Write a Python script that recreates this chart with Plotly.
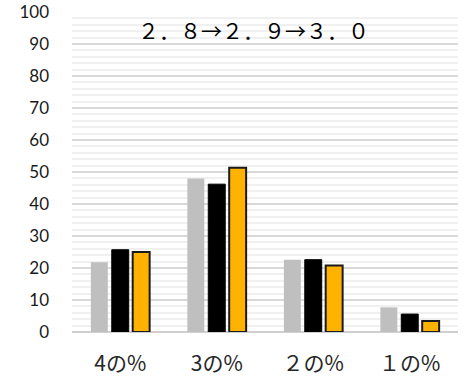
import plotly.graph_objects as go

categories = ["4の%", "3の%", "２の%", "１の%"]
series_names = ["2.8", "2.9", "3.0"]
values_28 = [21.8, 48.0, 22.6, 7.7]
values_29 = [25.7, 46.2, 22.6, 5.6]
values_30 = [25.0, 51.3, 20.8, 3.4]
title_text = "２．８→２．９→３．０"

fig = go.Figure()
fig.add_trace(go.Bar(x=categories, y=values_28, name=series_names[0],
                     marker=dict(color="#BFBFBF", line=dict(width=0))))
fig.add_trace(go.Bar(x=categories, y=values_29, name=series_names[1],
                     marker=dict(color="#000000", line=dict(color="#000000", width=1))))
fig.add_trace(go.Bar(x=categories, y=values_30, name=series_names[2],
                     marker=dict(color="#FFB300", line=dict(color="#1a1a1a", width=2))))

fig.add_annotation(
    x=0.47, y=0.997, xref="paper", yref="paper",
    text=title_text, showarrow=False,
    font=dict(family="Noto Sans CJK JP", size=21, color="#000000"),
)

fig.update_layout(
    width=467, height=383,
    margin=dict(l=72, r=9, t=12, b=51, autoexpand=False),
    paper_bgcolor="white", plot_bgcolor="white",
    barmode="group", bargap=0.35, bargroupgap=0.19,
    showlegend=False,
    font=dict(family="Lato", color="#1a1a1a"),
)
fig.update_xaxes(
    showgrid=False, showline=False, ticks="", automargin=False,
    tickfont=dict(family="Noto Sans CJK JP", size=21, color="#262626"),
    ticklabelstandoff=17,
)
fig.update_yaxes(
    range=[0, 100], dtick=10, showline=False, ticks="", automargin=False,
    gridcolor="#D9D9D9", gridwidth=1.5,
    zeroline=True, zerolinecolor="#D0D0D0", zerolinewidth=2,
    minor=dict(dtick=2, showgrid=True, gridcolor="#F0F0F0", gridwidth=1.5),
    tickfont=dict(family="Lato", size=17, color="#1a1a1a"),
    ticklabelstandoff=22,
)

# drop the default page margin so the figure sits at the window origin
fig.write_html("out.html", config={"displayModeBar": False},
               post_script="document.body.style.margin='0';")
